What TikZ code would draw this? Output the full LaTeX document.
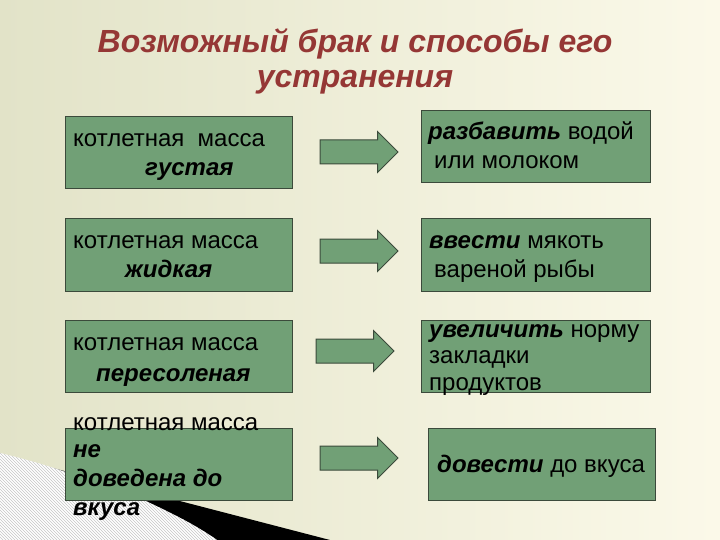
\documentclass[tikz,border=0pt]{standalone}
\usepackage{fontspec}
\setmainfont{Liberation Sans}
\usetikzlibrary{shapes.arrows,patterns}
\definecolor{bgL}{HTML}{E2E3C8}
\definecolor{bgR}{HTML}{FBF9E9}
\definecolor{boxfill}{HTML}{71A076}
\definecolor{boxline}{HTML}{3B4A3B}
\definecolor{titlered}{HTML}{953735}
\begin{document}
\begin{tikzpicture}[x=1pt,y=-1pt,
  box/.style={draw=boxline, fill=boxfill, line width=1pt, inner sep=0pt, minimum height=72pt, minimum width=227pt},
  blockarrow/.style={single arrow, draw=boxline, fill=boxfill, line width=1pt, inner sep=0pt,
     minimum height=78pt, single arrow head extend=8.5pt},
  txt/.style={anchor=base west, inner sep=0pt, font=\fontsize{24}{28}\selectfont},
  ttl/.style={anchor=base, inner sep=0pt, text=titlered, font=\fontsize{32}{38}\selectfont\bfseries\itshape}]
\useasboundingbox (0,0) rectangle (720,540);
\shade[left color=bgL, right color=bgR] (0,0) rectangle (720,540);
% bottom-left decoration
\fill[black] (45,466) -- (330,540) -- (200,540) -- (100,485) -- cycle;
\fill[white] (0,453) .. controls (25,459) and (45,465) .. (60,470) .. controls (95,482) and (125,491) .. (150,503) .. controls (180,517) and (200,528) .. (217,540) -- (0,540) -- cycle;
\fill[pattern=north west lines, pattern color=gray!45] (0,453) .. controls (25,459) and (45,465) .. (60,470) .. controls (95,482) and (125,491) .. (150,503) .. controls (180,517) and (200,528) .. (217,540) -- (0,540) -- cycle;
% title
\node[ttl] (title1) at (355,53) {Возможный брак и способы его};
\node[ttl] (title2) at (355,88) {устранения};
% boxes
\node[box] (l1) at (178.5,153) {};
\node[box] (l2) at (178.5,255) {};
\node[box] (l3) at (178.5,356) {};
\node[box] (l4) at (178.5,464) {};
\node[box, minimum width=229pt] (r1) at (535.5,147) {};
\node[box, minimum width=229pt] (r2) at (535.5,255) {};
\node[box, minimum width=229pt] (r3) at (535.5,356) {};
\node[box] (r4) at (541.5,464) {};
% arrows
\node[blockarrow] (a1) at (353,152) {\rule{0pt}{23pt}};
\node[blockarrow] (a2) at (353,251) {\rule{0pt}{23pt}};
\node[blockarrow] (a3) at (349,351) {\rule{0pt}{23pt}};
\node[blockarrow] (a4) at (353,458) {\rule{0pt}{23pt}};
% texts
\node[txt] (t1a) at (73,147) {котлетная~~масса};
\node[txt] (t1b) at (145,176) {\textbf{\textit{густая}}};
\node[txt] (u1a) at (428,140) {\textbf{\textit{разбавить}} водой};
\node[txt] (u1b) at (434,169) {или молоком};
\node[txt] (t2a) at (73,248) {котлетная масса};
\node[txt] (t2b) at (125,277) {\textbf{\textit{жидкая}}};
\node[txt] (u2a) at (429,248) {\textbf{\textit{ввести}} мякоть};
\node[txt] (u2b) at (434,277) {вареной рыбы};
\node[txt] (t3a) at (73,350) {котлетная масса};
\node[txt] (t3b) at (96,381) {\textbf{\textit{пересоленая}}};
\node[txt] (u3a) at (429,337) {\textbf{\textit{увеличить}} норму};
\node[txt] (u3b) at (429,363) {закладки};
\node[txt] (u3c) at (429,390) {продуктов};
\node[txt] (t4a) at (73,430) {котлетная масса};
\node[txt] (t4b) at (73,457) {\textbf{\textit{не}}};
\node[txt] (t4c) at (73,486) {\textbf{\textit{доведена до}}};
\node[txt] (t4d) at (73,515) {\textbf{\textit{вкуса}}};
\node[txt] (u4a) at (437,472) {\textbf{\textit{довести}} до вкуса};
\end{tikzpicture}
\end{document}
